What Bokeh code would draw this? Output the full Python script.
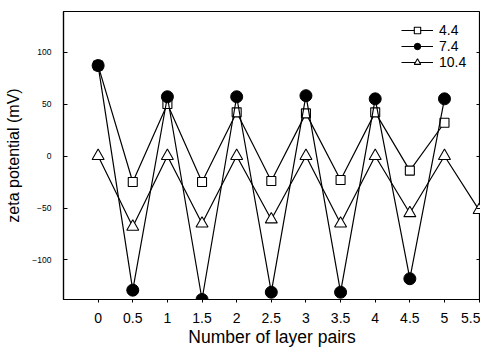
from bokeh.plotting import figure
from bokeh.models import LinearAxis, Range1d, FixedTicker, Legend, LegendItem
from bokeh.embed import file_html
from bokeh.resources import INLINE

x_main = [0, 0.5, 1, 1.5, 2, 2.5, 3, 3.5, 4, 4.5, 5]
x_tri = [0, 0.5, 1, 1.5, 2, 2.5, 3, 3.5, 4, 4.5, 5, 5.5]
y_44 = [87, -25, 50, -25, 42, -24, 41, -23, 42, -14, 32]
y_74 = [87, -129, 57, -138, 57, -131, 58, -131, 55, -118, 55]
y_104 = [0, -68, 0, -65, 0, -61, 0, -65, 0, -55, 0, -52]
labels = ["4.4", "7.4", "10.4"]
x_ticks = [0, 0.5, 1, 1.5, 2, 2.5, 3, 3.5, 4, 4.5, 5, 5.5]
y_ticks = [-100, -50, 0, 50, 100]

FONT = "Liberation Sans"

p = figure(width=480, height=349, output_backend="svg", toolbar_location=None,
           x_range=Range1d(-0.5, 5.52), y_range=Range1d(-138, 139),
           min_border_left=63, min_border_right=0, min_border_top=11, min_border_bottom=0)
p.xgrid.visible = False
p.ygrid.visible = False
p.outline_line_color = "black"
p.outline_line_width = 1.2

l1 = p.line(x_main, y_44, line_color="black", line_width=1.2)
s1 = p.scatter(x_main, y_44, marker="square", size=9, fill_color="white", line_color="black", line_width=1.1)
l3 = p.line(x_tri, y_104, line_color="black", line_width=1.2)
s3 = p.scatter(x_tri, y_104, marker="triangle", size=12, fill_color="white", line_color="black", line_width=1.1)
l2 = p.line(x_main, y_74, line_color="black", line_width=1.2)
s2 = p.scatter(x_main, y_74, marker="circle", size=12, fill_color="black", line_color="black")

xa = p.xaxis[0]
xa.ticker = FixedTicker(ticks=x_ticks)
xa.major_label_overrides = {v: ("%g" % v) for v in x_ticks}
xa.axis_label = "Number of layer pairs"
xa.axis_label_text_font = FONT
xa.axis_label_text_font_style = "normal"
xa.axis_label_text_font_size = "17.5px"
xa.axis_label_text_color = "black"
xa.axis_label_standoff = 1
xa.major_label_text_font = FONT
xa.major_label_text_font_size = "14px"
xa.major_label_text_color = "black"
xa.major_label_standoff = 10
xa.major_tick_in = 0
xa.major_tick_out = 3
xa.major_tick_line_color = "black"
xa.minor_tick_line_color = None
xa.axis_line_width = 1.2
xa.axis_line_color = "black"

ya = p.yaxis[0]
ya.ticker = FixedTicker(ticks=y_ticks)
ya.axis_label = "zeta potential (mV)"
ya.axis_label_text_font = FONT
ya.axis_label_text_font_style = "normal"
ya.axis_label_text_font_size = "16px"
ya.axis_label_text_color = "black"
ya.axis_label_standoff = 7
ya.major_label_text_font = FONT
ya.major_label_text_font_size = "8.5px"
ya.major_label_text_color = "black"
ya.major_label_standoff = 12
ya.major_tick_in = 4
ya.major_tick_out = 0
ya.major_tick_line_color = "black"
ya.minor_tick_line_color = None
ya.axis_line_width = 1.2
ya.axis_line_color = "black"

ra = LinearAxis(ticker=FixedTicker(ticks=y_ticks),
                major_label_overrides={v: "" for v in y_ticks},
                major_label_text_font_size="1px",
                major_tick_in=4, major_tick_out=0, minor_tick_line_color=None,
                major_tick_line_color="black",
                axis_line_color=None, major_label_standoff=0)
p.add_layout(ra, "right")

legend = Legend(items=[LegendItem(label=labels[0], renderers=[l1, s1]),
                       LegendItem(label=labels[1], renderers=[l2, s2]),
                       LegendItem(label=labels[2], renderers=[l3, s3])],
                location=(338, 229), border_line_color=None, background_fill_alpha=0,
                label_text_font=FONT, label_text_font_size="14px", label_text_color="black",
                glyph_width=32, glyph_height=16, label_standoff=6, spacing=0,
                margin=0, padding=5, label_height=16)
p.add_layout(legend)

open("out.html", "w").write(file_html(p, INLINE))
